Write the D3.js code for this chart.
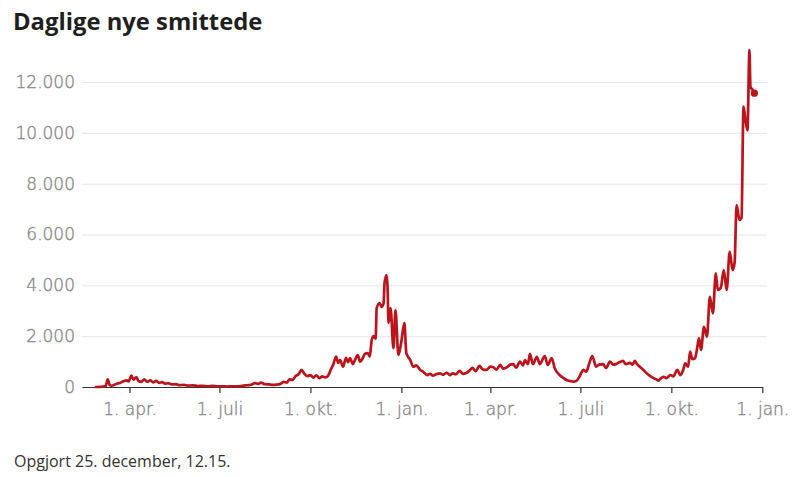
<!DOCTYPE html>
<html>
<head>
<meta charset="utf-8">
<script src="https://cdn.jsdelivr.net/npm/d3@7"></script>
<style>
  html, body { margin: 0; padding: 0; background: #fff; }
  svg { display: block; }
  .title { font-family: "Open Sans", sans-serif; font-weight: 700; font-size: 23.8px; fill: #1f1f1f; }
  .foot { font-family: "Open Sans", sans-serif; font-size: 16px; fill: #333; }
  .ytick text, .xtick text { font-family: "DejaVu Sans", sans-serif; font-weight: 300; font-size: 17px; fill: #8c8c8c; stroke: #8c8c8c; stroke-width: 0.4px; }
</style>
</head>
<body>
<svg id="chart" width="800" height="477"></svg>
<script>
const dates = [
"2020-02-27","2020-03-02","2020-03-06","2020-03-08","2020-03-10","2020-03-12","2020-03-14","2020-03-17","2020-03-20","2020-03-23","2020-03-26","2020-03-29","2020-03-31",
"2020-04-03","2020-04-05","2020-04-08","2020-04-10","2020-04-13","2020-04-16","2020-04-19","2020-04-22","2020-04-25","2020-04-28",
"2020-05-01","2020-05-04","2020-05-07","2020-05-10","2020-05-14","2020-05-18","2020-05-22","2020-05-26","2020-05-30",
"2020-06-04","2020-06-09","2020-06-14","2020-06-19","2020-06-24","2020-06-29",
"2020-07-04","2020-07-09","2020-07-14","2020-07-19","2020-07-24","2020-07-29",
"2020-08-02","2020-08-06","2020-08-09","2020-08-12","2020-08-16","2020-08-20","2020-08-24","2020-08-28",
"2020-09-01","2020-09-04","2020-09-07","2020-09-10","2020-09-13","2020-09-16","2020-09-19","2020-09-22","2020-09-25","2020-09-28",
"2020-10-01","2020-10-04","2020-10-07","2020-10-10","2020-10-13","2020-10-16","2020-10-19","2020-10-22","2020-10-24","2020-10-27","2020-10-29","2020-10-31",
"2020-11-03","2020-11-06","2020-11-08","2020-11-10","2020-11-13","2020-11-15","2020-11-18","2020-11-20","2020-11-23","2020-11-25","2020-11-28","2020-11-30",
"2020-12-02","2020-12-04","2020-12-06","2020-12-07","2020-12-10","2020-12-12","2020-12-14","2020-12-15","2020-12-17","2020-12-18","2020-12-19","2020-12-21","2020-12-24","2020-12-26","2020-12-29",
"2021-01-01","2021-01-04","2021-01-06","2021-01-10","2021-01-13","2021-01-16","2021-01-20","2021-01-23","2021-01-27","2021-01-30",
"2021-02-02","2021-02-05","2021-02-09","2021-02-12","2021-02-16","2021-02-19","2021-02-22","2021-02-25",
"2021-03-01","2021-03-04","2021-03-08","2021-03-11","2021-03-14","2021-03-17","2021-03-21","2021-03-24","2021-03-28",
"2021-04-01","2021-04-04","2021-04-07","2021-04-11","2021-04-14","2021-04-18","2021-04-21","2021-04-24","2021-04-27",
"2021-05-01","2021-05-04","2021-05-06","2021-05-09","2021-05-11","2021-05-14","2021-05-18","2021-05-21","2021-05-26","2021-05-29",
"2021-06-02","2021-06-05","2021-06-10","2021-06-13","2021-06-17","2021-06-21","2021-06-24","2021-06-27","2021-06-30",
"2021-07-02","2021-07-04","2021-07-07","2021-07-10","2021-07-13","2021-07-17","2021-07-20","2021-07-24","2021-07-27","2021-07-31",
"2021-08-03","2021-08-06","2021-08-10","2021-08-13","2021-08-16","2021-08-20","2021-08-23","2021-08-25","2021-08-27","2021-08-30",
"2021-09-02","2021-09-06","2021-09-09","2021-09-13","2021-09-16","2021-09-18","2021-09-20","2021-09-23","2021-09-26","2021-09-30",
"2021-10-03","2021-10-07","2021-10-10","2021-10-13","2021-10-15","2021-10-18","2021-10-20","2021-10-22","2021-10-25","2021-10-27","2021-10-29","2021-10-31",
"2021-11-03","2021-11-06","2021-11-09","2021-11-12","2021-11-15","2021-11-17","2021-11-20","2021-11-23","2021-11-26","2021-11-29",
"2021-12-02","2021-12-04","2021-12-06","2021-12-09","2021-12-11","2021-12-13","2021-12-15","2021-12-17","2021-12-19","2021-12-20","2021-12-22","2021-12-24"
];
const cases = [
1,4,20,40,300,80,50,90,140,170,230,260,220,
450,290,390,240,200,300,210,260,180,240,
160,190,130,150,100,110,70,85,55,
65,40,50,30,45,25,
30,20,30,25,45,70,
90,150,120,170,110,100,80,90,
130,200,170,300,280,430,500,670,520,430,
470,370,460,350,420,380,450,720,870,1200,950,1060,
800,1150,980,1140,900,1060,1260,1000,1140,1300,1330,1200,
1850,2000,1900,3100,3300,3150,3300,4100,4400,3950,2520,3100,1530,3030,1260,
1800,2520,1330,1060,800,850,670,600,470,520,
450,500,540,480,560,470,540,500,
640,520,560,650,750,620,830,700,670,
800,780,680,870,720,780,880,900,760,
1000,850,1060,900,1300,900,1190,900,1220,870,
1140,750,470,380,275,230,210,240,400,
560,670,600,930,1220,800,880,900,750,1000,
880,900,980,1030,900,950,880,1030,920,800,
700,540,450,350,300,250,330,400,350,470,
420,670,470,670,930,800,1390,1100,1130,1500,1920,1460,
2370,1980,3550,2900,4470,3820,3900,4600,3820,5320,
4600,4900,7160,6570,6650,11030,10500,10100,13260,11820,11700,11560
];
const yTicks = [0, 2000, 4000, 6000, 8000, 10000, 12000];
const xTickDates = ["2020-04-01","2020-07-01","2020-10-01","2021-01-01","2021-04-01","2021-07-01","2021-10-01","2022-01-01"];
const xTickLabels = ["1. apr.","1. juli","1. okt.","1. jan.","1. apr.","1. juli","1. okt.","1. jan."];
const titleText = "Daglige nye smittede";
const footText = "Opgjort 25. december, 12.15.";

const parse = d3.utcParse("%Y-%m-%d");
const data = dates.map((d, i) => ({ date: parse(d), value: cases[i] }));
const tickDates = xTickDates.map(parse);

const svg = d3.select("#chart");
const x = d3.scaleUtc().domain([parse("2020-02-13"), parse("2022-01-01")]).range([82, 762.3]);
const y = d3.scaleLinear().domain([0, 12000]).range([387, 82]);

const locale = d3.formatLocale({ decimal: ",", thousands: ".", grouping: [3], currency: ["", " kr."] });
const fmt = locale.format(",");

svg.append("text").attr("class", "title").attr("x", 13).attr("y", 30).text(titleText);

// gridlines + y labels
const yAxis = d3.axisLeft(y).tickValues(yTicks).tickFormat(fmt).tickSize(0).tickPadding(7);
const gy = svg.append("g").attr("class", "ytick").attr("transform", "translate(82,0)").call(yAxis);
gy.select(".domain").remove();
gy.selectAll(".tick line").remove();
gy.selectAll(".tick").filter(d => d !== 0).append("line")
  .attr("x1", 0).attr("x2", 685).attr("stroke", "#e6e6e6").attr("stroke-width", 1);

// x axis
const xAxis = d3.axisBottom(x).tickValues(tickDates).tickFormat((d, i) => xTickLabels[i]).tickSize(6).tickPadding(6).tickSizeOuter(0);
const gx = svg.append("g").attr("class", "xtick").attr("transform", "translate(0,387)").call(xAxis);
gx.select(".domain").attr("stroke", "#333").attr("stroke-width", 1.2);
gx.selectAll(".tick line").attr("stroke", "#333").attr("stroke-width", 1.2);
gx.selectAll(".tick text").attr("dy", "0.95em");

// line
const line = d3.line().x(d => x(d.date)).y(d => y(d.value)).curve(d3.curveMonotoneX);
svg.append("path").datum(data).attr("d", line)
  .attr("fill", "none").attr("stroke", "#bb141c").attr("stroke-width", 2.7)
  .attr("stroke-linejoin", "round").attr("stroke-linecap", "round");

const last = data[data.length - 1];
svg.append("circle").attr("cx", x(last.date)).attr("cy", y(last.value)).attr("r", 3.6).attr("fill", "#bb141c");

svg.append("text").attr("class", "foot").attr("x", 14).attr("y", 467).text(footText);
</script>
</body>
</html>
